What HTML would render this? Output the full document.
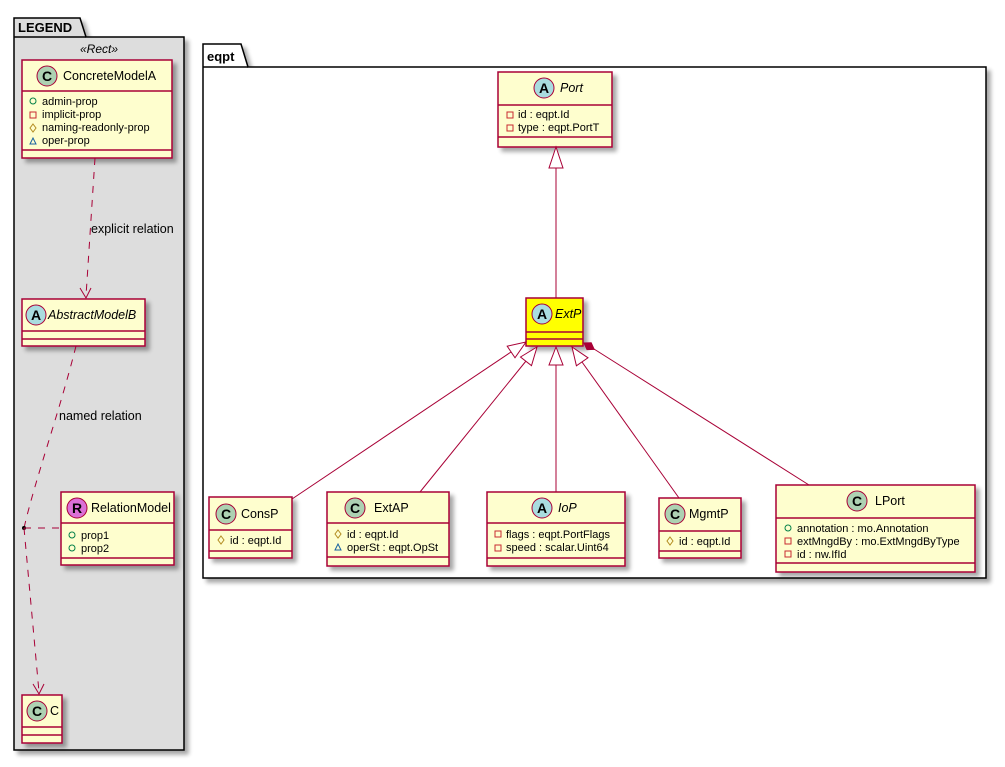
<!DOCTYPE html>
<html><head><meta charset="utf-8"><style>
body{margin:0;background:#fff}
svg text{font-family:"Liberation Sans",sans-serif;fill:#000}
.n{font-size:12.5px}.a{font-size:11px}
.b{fill:#FEFECE;stroke:#A80036;stroke-width:1.5}
.l{stroke:#A80036;stroke-width:1.5}
.e{stroke:#A80036;fill:none;stroke-width:1}
.d{stroke:#A80036;fill:none;stroke-width:1;stroke-dasharray:7,7}
.ic{stroke:#A80036;stroke-width:1}
</style></head><body>
<svg width="1005" height="762" xmlns="http://www.w3.org/2000/svg">
<defs><filter id="s" x="-10%" y="-10%" width="130%" height="130%"><feGaussianBlur in="SourceAlpha" stdDeviation="2"/><feOffset dx="4" dy="4"/><feComponentTransfer><feFuncA type="linear" slope="0.35"/></feComponentTransfer><feMerge><feMergeNode/><feMergeNode in="SourceGraphic"/></feMerge></filter></defs>

<!-- LEGEND package -->
<g filter="url(#s)">
<path d="M14,18 L80,18 L86,37 L184,37 L184,750 L14,750 Z" fill="#DDDDDD" stroke="#000" stroke-width="1.5"/>
</g>
<line x1="14" y1="37" x2="86" y2="37" stroke="#000" stroke-width="1.5"/>
<text x="18" y="32" style="font-size:13px;font-weight:bold">LEGEND</text>
<text x="99" y="53" text-anchor="middle" style="font-size:12px;font-style:italic">«Rect»</text>

<!-- eqpt package -->
<g filter="url(#s)">
<path d="M203,44 L241,44 L248,67 L986,67 L986,578 L203,578 Z" fill="#fff" stroke="#000" stroke-width="1.5"/>
</g>
<line x1="203" y1="67" x2="248" y2="67" stroke="#000" stroke-width="1.5"/>
<text x="207" y="61" style="font-size:13px;font-weight:bold">eqpt</text>

<!-- ConcreteModelA -->
<g filter="url(#s)"><rect class="b" x="22" y="60" width="150" height="98"/></g>
<line class="l" x1="22" y1="91" x2="172" y2="91"/><line class="l" x1="22" y1="150" x2="172" y2="150"/>
<circle cx="47" cy="76" r="10" fill="#ADD1B2" class="ic"/><text x="47" y="81" text-anchor="middle" style="font-size:14px;font-weight:bold">C</text>
<text class="n" x="63" y="80">ConcreteModelA</text>
<circle cx="33" cy="101" r="3" fill="none" stroke="#038048"/><text class="a" x="42" y="105">admin-prop</text>
<rect x="30" y="112" width="6" height="6" fill="none" stroke="#C82930"/><text class="a" x="42" y="118">implicit-prop</text>
<path d="M33,124 L36,128 L33,132 L30,128Z" fill="none" stroke="#B38D22"/><text class="a" x="42" y="131">naming-readonly-prop</text>
<path d="M30,144 L36,144 L33,138Z" fill="none" stroke="#1963A0"/><text class="a" x="42" y="144">oper-prop</text>

<!-- AbstractModelB -->
<g filter="url(#s)"><rect class="b" x="22" y="299" width="123" height="47"/></g>
<line class="l" x1="22" y1="331" x2="145" y2="331"/><line class="l" x1="22" y1="339" x2="145" y2="339"/>
<circle cx="36" cy="315" r="10" fill="#A9DCDF" class="ic"/><text x="36" y="320" text-anchor="middle" style="font-size:14px;font-weight:bold">A</text>
<text class="n" x="48" y="319" font-style="italic">AbstractModelB</text>

<!-- RelationModel -->
<g filter="url(#s)"><rect class="b" x="61" y="492" width="113" height="73"/></g>
<line class="l" x1="61" y1="523" x2="174" y2="523"/><line class="l" x1="61" y1="558" x2="174" y2="558"/>
<circle cx="77" cy="508" r="10" fill="#DA70D6" class="ic"/><text x="77" y="513" text-anchor="middle" style="font-size:14px;font-weight:bold">R</text>
<text class="n" x="91" y="512">RelationModel</text>
<circle cx="72" cy="535" r="3" fill="none" stroke="#038048"/><text class="a" x="81" y="539">prop1</text>
<circle cx="72" cy="548" r="3" fill="none" stroke="#038048"/><text class="a" x="81" y="552">prop2</text>

<!-- C -->
<g filter="url(#s)"><rect class="b" x="22" y="695" width="40" height="48"/></g>
<line class="l" x1="22" y1="727" x2="62" y2="727"/><line class="l" x1="22" y1="735" x2="62" y2="735"/>
<circle cx="37" cy="711" r="10" fill="#ADD1B2" class="ic"/><text x="37" y="716" text-anchor="middle" style="font-size:14px;font-weight:bold">C</text>
<text class="n" x="50" y="715">C</text>

<!-- legend relations -->
<path class="d" d="M95,158 L86,296"/>
<path d="M80,288 L86,298 L91,288" class="e" stroke-width="1.2"/>
<text class="n" x="91" y="233">explicit relation</text>
<path class="d" d="M76,346 C60,410 35,480 24,528"/>
<text class="n" x="59" y="420">named relation</text>
<circle cx="24" cy="528" r="2" fill="#000"/>
<path class="d" d="M24,528 L61,528"/>
<path class="d" d="M24,528 L39,692"/>
<path d="M33,684 L39,694 L44,684" class="e" stroke-width="1.2"/>

<!-- Port -->
<g filter="url(#s)"><rect class="b" x="498" y="72" width="114" height="75"/></g>
<line class="l" x1="498" y1="105" x2="612" y2="105"/><line class="l" x1="498" y1="137" x2="612" y2="137"/>
<circle cx="544" cy="88" r="10" fill="#A9DCDF" class="ic"/><text x="544" y="93" text-anchor="middle" style="font-size:14px;font-weight:bold">A</text>
<text class="n" x="560" y="92" font-style="italic">Port</text>
<rect x="507" y="112" width="6" height="6" fill="none" stroke="#C82930"/><text class="a" x="518" y="118">id : eqpt.Id</text>
<rect x="507" y="125" width="6" height="6" fill="none" stroke="#C82930"/><text class="a" x="518" y="131">type : eqpt.PortT</text>

<!-- ExtP -->
<g filter="url(#s)"><rect x="526" y="298" width="57" height="48" fill="#FFFF00" stroke="#A80036" stroke-width="1.5"/></g>
<line class="l" x1="526" y1="332" x2="583" y2="332"/><line class="l" x1="526" y1="339" x2="583" y2="339"/>
<circle cx="542" cy="314" r="10" fill="#A9DCDF" class="ic"/><text x="542" y="319" text-anchor="middle" style="font-size:14px;font-weight:bold">A</text>
<text class="n" x="555" y="318" font-style="italic">ExtP</text>

<!-- Edges -->
<line class="e" x1="556" y1="168" x2="556" y2="298"/>
<path d="M556,147 L549,168 L563,168Z" fill="#fff" stroke="#A80036"/>
<line class="e" x1="292" y1="499" x2="511" y2="352"/>
<path d="M526,342 L507.2,346.2 L515,357.8Z" fill="#fff" stroke="#A80036"/>
<line class="e" x1="420" y1="492" x2="526" y2="361"/>
<path d="M537,347 L520.5,357 L531.5,365.6Z" fill="#fff" stroke="#A80036"/>
<line class="e" x1="556" y1="365" x2="556" y2="492"/>
<path d="M556,347 L549,365 L563,365Z" fill="#fff" stroke="#A80036"/>
<line class="e" x1="679" y1="498" x2="582" y2="362"/>
<path d="M572,347 L588,357.8 L576.4,365.8Z" fill="#fff" stroke="#A80036"/>
<line class="e" x1="594" y1="349" x2="809" y2="485"/>
<path d="M584,343 L587,349.6 L594.2,349.4 L591.2,342.8Z" fill="#A80036" stroke="#A80036"/>

<!-- ConsP -->
<g filter="url(#s)"><rect class="b" x="209" y="497" width="83" height="61"/></g>
<line class="l" x1="209" y1="530" x2="292" y2="530"/><line class="l" x1="209" y1="551" x2="292" y2="551"/>
<circle cx="226" cy="514" r="10" fill="#ADD1B2" class="ic"/><text x="226" y="519" text-anchor="middle" style="font-size:14px;font-weight:bold">C</text>
<text class="n" x="241" y="518">ConsP</text>
<path d="M221,536 L224,540 L221,544 L218,540Z" fill="none" stroke="#B38D22"/>
<text class="a" x="230" y="544">id : eqpt.Id</text>

<!-- ExtAP -->
<g filter="url(#s)"><rect class="b" x="327" y="492" width="122" height="74"/></g>
<line class="l" x1="327" y1="523" x2="449" y2="523"/><line class="l" x1="327" y1="557" x2="449" y2="557"/>
<circle cx="355" cy="508" r="10" fill="#ADD1B2" class="ic"/><text x="355" y="513" text-anchor="middle" style="font-size:14px;font-weight:bold">C</text>
<text class="n" x="374" y="512">ExtAP</text>
<path d="M338,530 L341,534 L338,538 L335,534Z" fill="none" stroke="#B38D22"/><text class="a" x="347" y="538">id : eqpt.Id</text>
<path d="M335,550 L341,550 L338,544Z" fill="none" stroke="#1963A0"/><text class="a" x="347" y="551">operSt : eqpt.OpSt</text>

<!-- IoP -->
<g filter="url(#s)"><rect class="b" x="487" y="492" width="138" height="74"/></g>
<line class="l" x1="487" y1="523" x2="625" y2="523"/><line class="l" x1="487" y1="558" x2="625" y2="558"/>
<circle cx="542" cy="508" r="10" fill="#A9DCDF" class="ic"/><text x="542" y="513" text-anchor="middle" style="font-size:14px;font-weight:bold">A</text>
<text class="n" x="558" y="512" font-style="italic">IoP</text>
<rect x="495" y="531" width="6" height="6" fill="none" stroke="#C82930"/><text class="a" x="506" y="538">flags : eqpt.PortFlags</text>
<rect x="495" y="545" width="6" height="6" fill="none" stroke="#C82930"/><text class="a" x="506" y="551">speed : scalar.Uint64</text>

<!-- MgmtP -->
<g filter="url(#s)"><rect class="b" x="659" y="498" width="82" height="60"/></g>
<line class="l" x1="659" y1="531" x2="741" y2="531"/><line class="l" x1="659" y1="551" x2="741" y2="551"/>
<circle cx="675" cy="514" r="10" fill="#ADD1B2" class="ic"/><text x="675" y="519" text-anchor="middle" style="font-size:14px;font-weight:bold">C</text>
<text class="n" x="689" y="518">MgmtP</text>
<path d="M670,537 L673,541 L670,545 L667,541Z" fill="none" stroke="#B38D22"/><text class="a" x="679" y="545">id : eqpt.Id</text>

<!-- LPort -->
<g filter="url(#s)"><rect class="b" x="776" y="485" width="199" height="87"/></g>
<line class="l" x1="776" y1="518" x2="975" y2="518"/><line class="l" x1="776" y1="563" x2="975" y2="563"/>
<circle cx="857" cy="501" r="10" fill="#ADD1B2" class="ic"/><text x="857" y="506" text-anchor="middle" style="font-size:14px;font-weight:bold">C</text>
<text class="n" x="875" y="505">LPort</text>
<circle cx="788" cy="528" r="3" fill="none" stroke="#038048"/><text class="a" x="797" y="532">annotation : mo.Annotation</text>
<rect x="785" y="538" width="6" height="6" fill="none" stroke="#C82930"/><text class="a" x="797" y="545">extMngdBy : mo.ExtMngdByType</text>
<rect x="785" y="551" width="6" height="6" fill="none" stroke="#C82930"/><text class="a" x="797" y="558">id : nw.IfId</text>
</svg>
</body></html>
